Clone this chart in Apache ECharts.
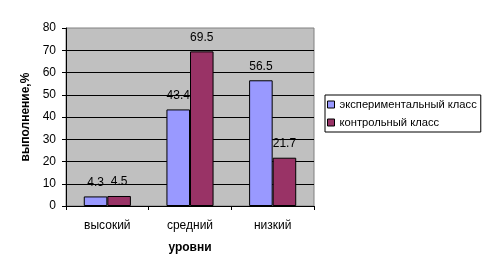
<!DOCTYPE html>
<html>
<head>
<meta charset="utf-8">
<script src="https://cdn.jsdelivr.net/npm/echarts@6/dist/echarts.min.js"></script>
<style>html,body{margin:0;padding:0;background:#fff;}#c{width:491px;height:279px;}</style>
</head>
<body>
<div id="c"></div>
<script>
const categories = ['высокий', 'средний', 'низкий'];
const seriesNames = ['экспериментальный класс', 'контрольный класс'];
const experimental = [4.3, 43.4, 56.5];
const control = [4.5, 69.5, 21.7];
const yTicks = { min: 0, max: 80, interval: 10 };

const FONT = 'Liberation Sans, Arial, sans-serif';
const chart = echarts.init(document.getElementById('c'), null, { renderer: 'canvas' });
const labelCfg = { show: true, position: 'top', distance: 8, color: '#000', fontSize: 12, fontFamily: FONT };
chart.setOption({
  animation: false,
  backgroundColor: '#fff',
  textStyle: { fontFamily: FONT },
  grid: { left: 66, right: 177, top: 28, bottom: 73, show: true, backgroundColor: '#C0C0C0', borderColor: '#808080', borderWidth: 1 },
  legend: {
    orient: 'vertical', left: 325, top: 95,
    padding: [4, 4, 4, 2], itemGap: 7, itemWidth: 7, itemHeight: 7,
    backgroundColor: '#fff', borderColor: '#000', borderWidth: 1, borderRadius: 0,
    icon: 'rect',
    itemStyle: { borderColor: '#000', borderWidth: 1 },
    textStyle: { color: '#000', fontSize: 11.2, fontFamily: FONT },
    data: seriesNames
  },
  xAxis: {
    type: 'category', data: categories,
    name: 'уровни', nameLocation: 'middle', nameGap: 36,
    nameTextStyle: { color: '#000', fontSize: 12, fontWeight: 'bold', fontFamily: FONT },
    axisLine: { lineStyle: { color: '#000', width: 1 } },
    axisTick: { show: true, length: 4, lineStyle: { color: '#000' } },
    axisLabel: { color: '#000', fontSize: 12, margin: 14, fontFamily: FONT }
  },
  yAxis: {
    type: 'value', min: yTicks.min, max: yTicks.max, interval: yTicks.interval,
    name: 'выполнение,%', nameLocation: 'middle', nameGap: 30, nameRotate: 90,
    nameTextStyle: { color: '#000', fontSize: 12, fontWeight: 'bold', fontFamily: FONT },
    axisLine: { show: true, lineStyle: { color: '#000', width: 1 } },
    axisTick: { show: true, length: 4, lineStyle: { color: '#000' } },
    axisLabel: { color: '#000', fontSize: 12, margin: 10, fontFamily: FONT },
    splitLine: { show: true, showMaxLine: false, lineStyle: { color: '#000', width: 1 } }
  },
  series: [
    { name: seriesNames[0], type: 'bar', data: experimental, barGap: '0%', barCategoryGap: '43%',
      itemStyle: { color: '#9999FF', borderColor: '#000', borderWidth: 1 }, label: labelCfg },
    { name: seriesNames[1], type: 'bar', data: control, barGap: '0%', barCategoryGap: '43%',
      itemStyle: { color: '#993366', borderColor: '#000', borderWidth: 1 }, label: labelCfg }
  ]
});
</script>
</body>
</html>
